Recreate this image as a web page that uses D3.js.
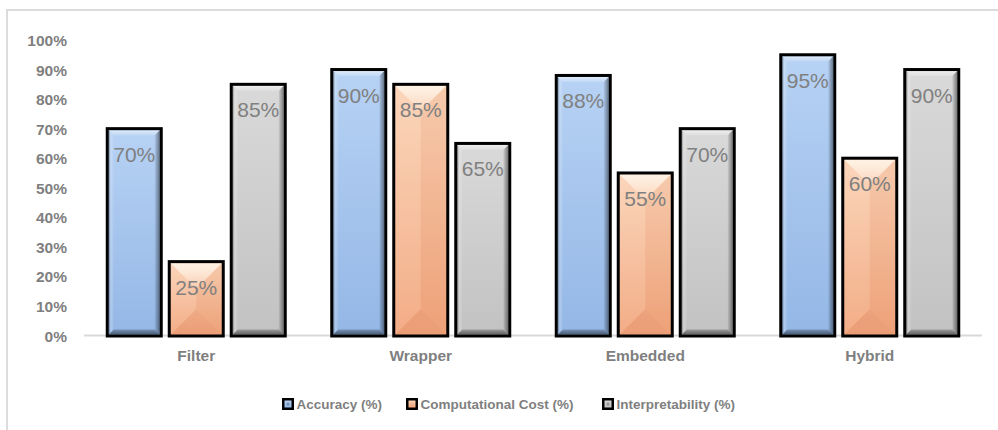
<!DOCTYPE html>
<html>
<head>
<meta charset="utf-8">
<script src="https://cdn.jsdelivr.net/npm/d3@7"></script>
<style>
  html, body { margin: 0; padding: 0; background: #fff; }
  svg { display: block; }
  text { font-family: "Liberation Sans", Arial, sans-serif; }
</style>
</head>
<body>
<svg id="chart" width="998" height="430"></svg>
<script>
const categories = ["Filter", "Wrapper", "Embedded", "Hybrid"];
const seriesNames = ["Accuracy (%)", "Computational Cost (%)", "Interpretability (%)"];
const accuracy = [70, 90, 88, 95];
const computationalCost = [25, 85, 55, 60];
const interpretability = [85, 65, 70, 90];
const yTicks = [0, 10, 20, 30, 40, 50, 60, 70, 80, 90, 100];

const seriesValues = [accuracy, computationalCost, interpretability];
const seriesStyle = [
  { top: "#b7d2f4", bottom: "#94b7e6", key: "blue" },
  { top: "#fbd3b6", bottom: "#f2a67d", key: "orange" },
  { top: "#d9d9d9", bottom: "#c2c2c2", key: "gray" }
];

const svg = d3.select("#chart");
const W = 998, H = 430;
const defs = svg.append("defs");
seriesStyle.forEach(s => {
  const g = defs.append("linearGradient").attr("id", "grad-" + s.key)
    .attr("x1", 0).attr("y1", 0).attr("x2", 0).attr("y2", 1);
  g.append("stop").attr("offset", "0%").attr("stop-color", s.top);
  g.append("stop").attr("offset", "100%").attr("stop-color", s.bottom);
});
const rg = defs.append("linearGradient").attr("id", "bevel-right").attr("x1", 0).attr("x2", 1).attr("y1", 0).attr("y2", 0);
rg.append("stop").attr("offset", "0%").attr("stop-color", "#000").attr("stop-opacity", 0.05);
rg.append("stop").attr("offset", "100%").attr("stop-color", "#000").attr("stop-opacity", 0.45);
const lg = defs.append("linearGradient").attr("id", "bevel-left").attr("x1", 0).attr("x2", 1).attr("y1", 0).attr("y2", 0);
lg.append("stop").attr("offset", "0%").attr("stop-color", "#000").attr("stop-opacity", 0.35);
lg.append("stop").attr("offset", "40%").attr("stop-color", "#fff").attr("stop-opacity", 0.25);
lg.append("stop").attr("offset", "100%").attr("stop-color", "#fff").attr("stop-opacity", 0.05);
const tg = defs.append("linearGradient").attr("id", "bevel-top").attr("x1", 0).attr("x2", 0).attr("y1", 0).attr("y2", 1);
tg.append("stop").attr("offset", "0%").attr("stop-color", "#fff").attr("stop-opacity", 0.55);
tg.append("stop").attr("offset", "100%").attr("stop-color", "#fff").attr("stop-opacity", 0.15);
const bg = defs.append("linearGradient").attr("id", "bevel-bottom").attr("x1", 0).attr("x2", 0).attr("y1", 0).attr("y2", 1);
bg.append("stop").attr("offset", "0%").attr("stop-color", "#000").attr("stop-opacity", 0.2);
bg.append("stop").attr("offset", "100%").attr("stop-color", "#000").attr("stop-opacity", 0.5);
const og = defs.append("linearGradient").attr("id", "orange-top").attr("x1", 0).attr("x2", 0).attr("y1", 0).attr("y2", 1);
og.append("stop").attr("offset", "0%").attr("stop-color", "#fff8ec").attr("stop-opacity", 0.85);
og.append("stop").attr("offset", "100%").attr("stop-color", "#fff").attr("stop-opacity", 0.1);

// frame
svg.append("rect").attr("x", 7).attr("y", 10).attr("width", W + 10).attr("height", H + 10)
  .attr("fill", "none").attr("stroke", "#d9d9d9").attr("stroke-width", 1.8);

const x0 = d3.scaleBand().domain(categories).range([84, 982]).padding(0);
const bw = x0.bandwidth();
const x1 = d3.scaleBand().domain(seriesNames).range([bw / 2 - 89, bw / 2 + 89]).paddingInner(0.129).paddingOuter(0);
const y = d3.scaleLinear().domain([0, 100]).range([335.5, 40]);

// y axis labels
const yAxis = d3.axisLeft(y).tickValues(yTicks).tickFormat(d => d + "%").tickSize(0).tickPadding(0);
const yg = svg.append("g").attr("transform", "translate(67,0)").call(yAxis);
yg.select(".domain").remove();
yg.selectAll("text").attr("fill", "#7f7f7f").attr("font-size", "15.5px").attr("font-weight", "bold")
  .attr("font-family", "'Liberation Sans', Arial, sans-serif").attr("dy", "0.36em");

// baseline
svg.append("line").attr("x1", 84).attr("x2", 982).attr("y1", y(0)).attr("y2", y(0))
  .attr("stroke", "#d9d9d9").attr("stroke-width", 1.8);

// x axis labels
const xAxis = d3.axisBottom(x0).tickSize(0).tickPadding(0);
const xg = svg.append("g").attr("transform", "translate(0,350)").call(xAxis);
xg.select(".domain").remove();
xg.selectAll("text").attr("fill", "#7f7f7f").attr("font-size", "15.5px").attr("font-weight", "bold")
  .attr("font-family", "'Liberation Sans', Arial, sans-serif").attr("dy", "0.71em");

// bars
const barData = [];
categories.forEach((c, ci) => {
  seriesNames.forEach((s, si) => {
    barData.push({ cat: c, series: s, si, value: seriesValues[si][ci] });
  });
});

const bars = svg.append("g").selectAll("g.bar").data(barData).join("g").attr("class", "bar");
bars.each(function(d) {
  const g = d3.select(this);
  const xl = x0(d.cat) + x1(d.series);
  const w = x1.bandwidth();
  const yt = y(d.value);
  const yb = y(0) + 0.5;
  const h = yb - yt;
  const st = seriesStyle[d.si];
  const ix0 = xl + 1.5, ix1 = xl + w - 1.5, iy0 = yt + 1.5, iy1 = yb - 1.5;
  g.append("rect").attr("x", xl).attr("y", yt).attr("width", w).attr("height", h)
    .attr("fill", "url(#grad-" + st.key + ")");
  if (st.key === "orange") {
    const b = Math.min((ix1 - ix0) / 2, (iy1 - iy0) / 2);
    g.append("polygon").attr("points", [[ix0, iy0], [ix1, iy0], [ix1 - b, iy0 + b], [ix0 + b, iy0 + b]].map(p => p.join(",")).join(" "))
      .attr("fill", "url(#orange-top)");
    g.append("polygon").attr("points", [[ix1, iy0], [ix1, iy1], [ix1 - b, iy1 - b], [ix1 - b, iy0 + b]].map(p => p.join(",")).join(" "))
      .attr("fill", "#c0603a").attr("fill-opacity", 0.08);
    g.append("polygon").attr("points", [[ix0, iy0], [ix0, iy1], [ix0 + b, iy1 - b], [ix0 + b, iy0 + b]].map(p => p.join(",")).join(" "))
      .attr("fill", "#fff").attr("fill-opacity", 0.08);
    g.append("polygon").attr("points", [[ix0, iy1], [ix1, iy1], [ix1 - b, iy1 - b], [ix0 + b, iy1 - b]].map(p => p.join(",")).join(" "))
      .attr("fill", "#b05030").attr("fill-opacity", 0.1);
  } else {
    const b = 5;
    g.append("polygon").attr("points", [[ix0, iy0], [ix1, iy0], [ix1 - b, iy0 + b], [ix0 + b, iy0 + b]].map(p => p.join(",")).join(" "))
      .attr("fill", "url(#bevel-top)");
    g.append("polygon").attr("points", [[ix0, iy0], [ix0, iy1], [ix0 + b, iy1 - b], [ix0 + b, iy0 + b]].map(p => p.join(",")).join(" "))
      .attr("fill", "url(#bevel-left)");
    g.append("polygon").attr("points", [[ix1, iy0], [ix1, iy1], [ix1 - b, iy1 - b], [ix1 - b, iy0 + b]].map(p => p.join(",")).join(" "))
      .attr("fill", "url(#bevel-right)");
    g.append("polygon").attr("points", [[ix0, iy1], [ix1, iy1], [ix1 - b, iy1 - b], [ix0 + b, iy1 - b]].map(p => p.join(",")).join(" "))
      .attr("fill", "url(#bevel-bottom)");
  }
  g.append("rect").attr("x", xl).attr("y", yt).attr("width", w).attr("height", h)
    .attr("fill", "none").attr("stroke", "#000").attr("stroke-width", 3);
  g.append("text").attr("x", xl + w / 2).attr("y", yt + 33).attr("text-anchor", "middle")
    .attr("fill", "#808080").attr("font-size", "21px").text(d.value + "%");
});

// legend
const legendX = [282, 406, 602];
const lg2 = svg.append("g").selectAll("g").data(seriesNames).join("g")
  .attr("transform", (d, i) => `translate(${legendX[i]},398)`);
lg2.append("rect").attr("width", 12).attr("height", 12).attr("fill", "#000");
lg2.append("rect").attr("x", 2.5).attr("y", 2.5).attr("width", 7).attr("height", 7)
  .attr("fill", (d, i) => "url(#grad-" + seriesStyle[i].key + ")");
lg2.append("rect").attr("x", 4.5).attr("y", 4.5).attr("width", 3).attr("height", 3)
  .attr("fill", "#000").attr("fill-opacity", (d, i) => i === 1 ? 0.05 : 0.25);
lg2.append("text").attr("x", 14.5).attr("y", 6).attr("dy", "0.36em")
  .attr("fill", "#7f7f7f").attr("font-size", "13.5px").attr("font-weight", "bold").text(d => d);
</script>
</body>
</html>
